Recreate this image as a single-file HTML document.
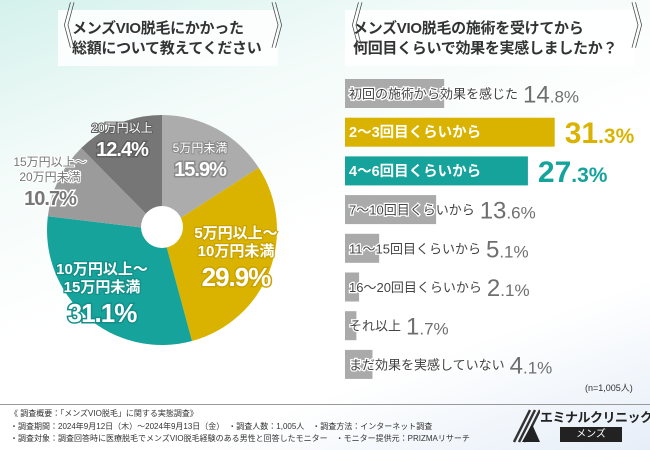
<!DOCTYPE html>
<html><head><meta charset="utf-8">
<style>
*{margin:0;padding:0;box-sizing:border-box}
body{width:650px;height:450px;overflow:hidden;font-family:"Liberation Sans","Noto Sans CJK JP",sans-serif;background:linear-gradient(160deg,#d4f1ec 0%,#f3fbf9 25%,#ffffff 50%,#ffffff 75%,#e6eef8 100%);position:relative}
.title{position:absolute;top:10px;height:56px;background:rgba(255,255,255,0.85);font-weight:bold;color:#333;font-size:15px;line-height:20px;padding:9px 0 0 14px;white-space:nowrap;letter-spacing:-0.3px}
.br{position:absolute;top:2px;font-size:50px;color:#444;font-weight:100;line-height:50px;transform:scaleX(0.5)}
#foot{position:absolute;left:0;top:404px;width:650px;border-top:1px solid #999;font-size:8px;color:#333;line-height:12.5px;padding:3px 0 0 10px;white-space:nowrap}
</style></head><body>
<div class="title" style="left:58px;width:220px">メンズVIO脱毛にかかった<br>総額について教えてください</div>
<div class="br" style="left:38px">《</div>
<div class="br" style="left:258px">》</div>
<div class="title" style="left:345px;width:290px;padding-left:8px">メンズVIO脱毛の施術を受けてから<br>何回目くらいで効果を実感しましたか？</div>
<div class="br" style="left:326px">《</div>
<div class="br" style="left:618px">》</div>

<svg id="pie" width="325" height="400" style="position:absolute;left:0;top:0"></svg>
<svg id="bars" width="325" height="400" style="position:absolute;left:325px;top:0"></svg>
<div style="position:absolute;left:585px;top:381px;font-size:9px;color:#333">(n=1,005人)</div>

<div id="foot">《 調査概要：「メンズVIO脱毛」に関する実態調査》<br>・調査期間：2024年9月12日（木）～2024年9月13日（金）　・調査人数：1,005人　・調査方法：インターネット調査<br>・調査対象：調査回答時に医療脱毛でメンズVIO脱毛経験のある男性と回答したモニター　・モニター提供元：PRIZMAリサーチ</div>
<div style="position:absolute;left:510px;top:406px;width:140px;height:40px">
<svg width="30" height="38" style="position:absolute;left:0;top:0"><path d="M4 36 L20 4 M9 36 L25 4 M14 36 L30 4" stroke="#333" stroke-width="2.5"/><path d="M12 36 L22 18 L30 36Z" fill="#222"/></svg>
<div style="position:absolute;left:30px;top:1px;font-size:13px;font-weight:bold;color:#222;white-space:nowrap;letter-spacing:-0.5px">エミナルクリニック</div>
<div style="position:absolute;left:50px;top:21px;width:62px;height:15px;background:#222;color:#fff;font-size:10px;text-align:center;line-height:15px">メンズ</div>
</div>
<script>
const pieLabels=[["5万円未満"],["5万円以上～","10万円未満"],["10万円以上～","15万円未満"],["15万円以上～","20万円未満"],["20万円以上"]];
const pieValues=[15.9,29.9,31.1,10.7,12.4];
const pieColors=["#acacac","#dab300","#15a39b","#9b9b9b","#767676"];
const barLabels=["初回の施術から効果を感じた","2～3回目くらいから","4～6回目くらいから","7～10回目くらいから","11～15回目くらいから","16～20回目くらいから","それ以上","まだ効果を実感していない"];
const barValues=[14.8,31.3,27.3,13.6,5.1,2.1,1.7,4.1];
const barColors=["#aaaaaa","#dab300","#15a39b","#aaaaaa","#aaaaaa","#aaaaaa","#aaaaaa","#aaaaaa"];
const NS="http://www.w3.org/2000/svg";
function mk(p,t,a){const e=document.createElementNS(NS,t);for(const k in a)e.setAttribute(k,a[k]);p.appendChild(e);return e;}
// pie
const pie=document.getElementById('pie');
const cx=162,cy=230,R=115,tot=pieValues.reduce((a,b)=>a+b,0);
let acc=0;
const pt=(a,r)=>[cx+r*Math.sin(a),cy-r*Math.cos(a)];
// label layout (positions only): [x, first-line y]
const labPos=[[200,152],[236,238],[102,274],[50,166],[122,132]];
const labStroke=["#8a8a8a","#c9a200","#128f88","#fff","#5f5f5f"];
pieValues.forEach((v,i)=>{
  const a0=acc/tot*2*Math.PI;acc+=v;const a1=acc/tot*2*Math.PI;
  const p0=pt(a0,R),p1=pt(a1,R);
  const s=mk(pie,'path',{d:`M${cx},${cy}L${p0[0]},${p0[1]}A${R},${R} 0 ${a1-a0>Math.PI?1:0} 1 ${p1[0]},${p1[1]}Z`,fill:pieColors[i]});
  
  
});
pieValues.forEach((v,i)=>{
  const big=i==1||i==2;
  const fill=i==3?'#777':'#fff';
  const st=labStroke[i];
  const lines=pieLabels[i];
  const lh=big?18:15,fs=big?15:12;
  const [lx,ly]=labPos[i];
  const g=mk(pie,'g',{});
  
  
  lines.forEach((l,j)=>{
    const t=mk(g,'text',{x:lx,y:ly+j*lh,'text-anchor':'middle','font-size':fs,'font-weight':big?'bold':'normal',fill:fill,stroke:st,'stroke-width':big?2.5:2,'paint-order':'stroke'});
    t.textContent=l;
  });
  const t=mk(g,'text',{x:lx,y:ly+(lines.length-1)*lh+(big?30:24),'text-anchor':'middle','font-size':big?26:20,'font-weight':'bold',fill:fill,stroke:st,'stroke-width':3,'paint-order':'stroke','letter-spacing':'-1'});
  t.textContent=v.toFixed(1)+'%';
});
const hole=mk(pie,'circle',{cx:cx,cy:cy-3,r:21,fill:'#fff'});


// bars
const bars=document.getElementById('bars');
const x0=20,pp=6.7,y0=79,step=38.7,bh=29;
const xs=v=>v*pp;
barValues.forEach((v,i)=>{
  const y=y0+i*step;
  const r=mk(bars,'rect',{x:x0,y:y,width:xs(v),height:bh,fill:barColors[i]});
  
  
  const hi=i==1||i==2;
  const lab=mk(bars,'text',{x:x0+4,y:y+bh/2+5,'font-size':hi?14.5:13,'font-weight':hi?'bold':'normal',fill:hi?'#fff':'#444',stroke:hi?'none':'#fff','stroke-width':2.5,'paint-order':'stroke'});
  
  
  lab.textContent=barLabels[i];
  const lw=lab.getComputedTextLength();
  const vx=hi?x0+xs(v)+10:x0+4+lw+5;
  const vs=v.toFixed(1).split('.');
  const vt=mk(bars,'text',{x:vx,y:y+bh/2+(hi?11:9),fill:hi?barColors[i]:'#6f6f6f','font-weight':hi?'bold':'normal'});
  
  
  const a=mk(vt,'tspan',{'font-size':hi?30:24});a.textContent=vs[0];
  const b=mk(vt,'tspan',{'font-size':hi?21:17});b.textContent='.'+vs[1]+'%';
});
</script>
</body></html>
